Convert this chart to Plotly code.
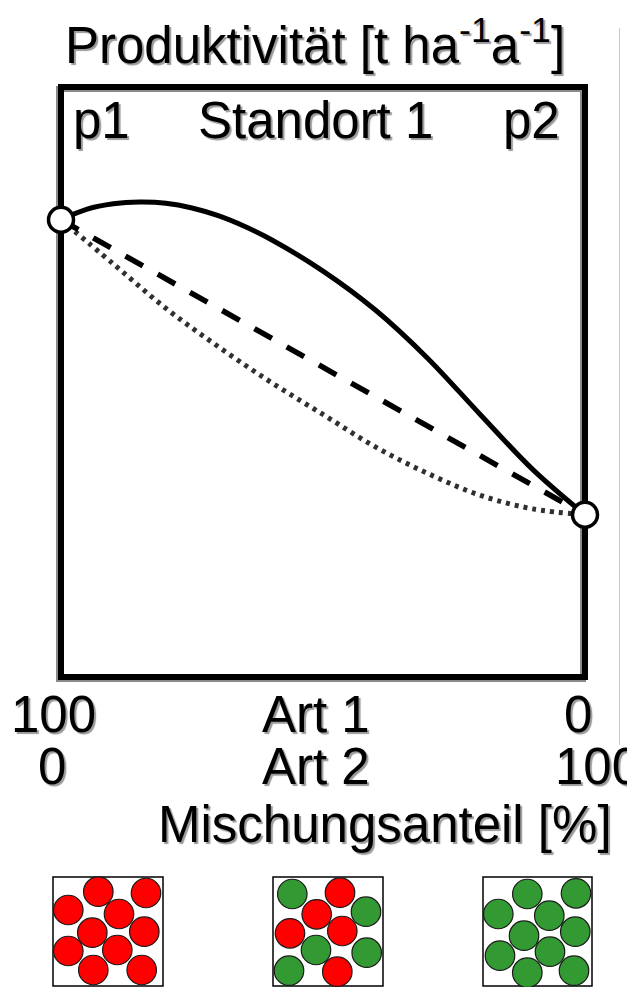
import plotly.graph_objects as go

W, H = 627, 987

# ---------------- data ----------------
# x = share of Art 2 in % (left: 100 % Art 1, right: 100 % Art 2); y = productivity (arbitrary units)
solid_x = [0, 5, 10, 15, 20, 25, 30, 35, 40, 50, 60, 70, 80, 90, 100]
solid_y = [7.75, 7.93, 8.02, 8.05, 8.03, 7.95, 7.82, 7.64, 7.42, 6.88, 6.22, 5.40, 4.45, 3.52, 2.75]

dashed_x = [0, 50, 100]
dashed_y = [7.75, 5.25, 2.75]

dotted_x = [0, 10, 20, 30, 40, 50, 60, 70, 80, 90, 100]
dotted_y = [7.75, 7.00, 6.25, 5.60, 5.00, 4.45, 3.90, 3.45, 3.08, 2.85, 2.75]

mono_x = [0, 100]
mono_y = [7.75, 2.75]

top_labels = ["p1", "Standort 1", "p2"]
row1_labels = ["100", "Art 1", "0"]
row2_labels = ["0", "Art 2", "100"]
title_text = "Produktivität [t ha<sup>-1</sup>a<sup>-1</sup>]"
xlabel_text = "Mischungsanteil [%]"

# illustration: three mixture boxes with 10 plants each (1 = Art 1 red, 2 = Art 2 green)
box1_cx = [98.3, 146, 68.3, 119, 92.3, 144.3, 68.3, 117.3, 93.3, 141.7]
box1_cy = [891.7, 893, 910, 914, 932.7, 931.7, 951, 950, 970, 970]
box1_sp = [1, 1, 1, 1, 1, 1, 1, 1, 1, 1]
box2_cx = [292.3, 340, 316.7, 366, 290, 342.3, 316, 366.7, 289, 337.3]
box2_cy = [894, 892.7, 914.3, 911.7, 933.3, 931, 950, 952.7, 970.7, 971.7]
box2_sp = [2, 1, 1, 2, 1, 1, 2, 2, 2, 1]
box3_cx = [527.3, 576, 498.3, 549.3, 524, 575.3, 500, 550, 527.3, 574]
box3_cy = [894, 893.3, 914, 915.7, 935.7, 931.7, 955.7, 951.7, 972.7, 970.7]
box3_sp = [2, 2, 2, 2, 2, 2, 2, 2, 2, 2]

# ---------------- layout helpers ----------------
def px(x):
    return x / W

def py(y):
    return 1 - y / H

PL, PR, PT, PB = 61, 585, 87, 677
RED, GREEN = "#ff0000", "#339933"
FONT = "Liberation Sans, Arial, Helvetica, sans-serif"
FS = 51
SHADOW = "2px 2px 1px #9a9a9a"

fig = go.Figure()

fig.add_trace(go.Scatter(x=dotted_x, y=dotted_y, mode="lines",
                         line=dict(color="#303030", width=5, dash="4px,5px", shape="spline"),
                         cliponaxis=False, hoverinfo="skip", showlegend=False))
fig.add_trace(go.Scatter(x=dashed_x, y=dashed_y, mode="lines",
                         line=dict(color="black", width=5.5, dash="20px,17px"),
                         cliponaxis=False, hoverinfo="skip", showlegend=False))
fig.add_trace(go.Scatter(x=solid_x, y=solid_y, mode="lines",
                         line=dict(color="black", width=5, shape="spline"),
                         cliponaxis=False, hoverinfo="skip", showlegend=False))
fig.add_trace(go.Scatter(x=mono_x, y=mono_y, mode="markers",
                         marker=dict(size=25, color="white", line=dict(color="black", width=3.5)),
                         cliponaxis=False, hoverinfo="skip", showlegend=False))

# illustration circles
for cx, cy, sp in [(box1_cx, box1_cy, box1_sp), (box2_cx, box2_cy, box2_sp), (box3_cx, box3_cy, box3_sp)]:
    fig.add_trace(go.Scatter(x=cx, y=cy, mode="markers", xaxis="x2", yaxis="y2",
                             marker=dict(size=29.5, color=[RED if s == 1 else GREEN for s in sp],
                                         line=dict(color="#1a1a1a", width=1.2)),
                             cliponaxis=False, hoverinfo="skip", showlegend=False))

shapes = []
# frame shadow and frame
shapes.append(dict(type="rect", xref="paper", yref="paper", x0=px(PL - 2), x1=px(PR - 2), y0=py(PB + 2), y1=py(PT + 2),
                   line=dict(color="#8a8a8a", width=6), layer="below"))
shapes.append(dict(type="rect", xref="paper", yref="paper", x0=px(PL), x1=px(PR), y0=py(PB), y1=py(PT),
                   line=dict(color="black", width=6), layer="below"))
# faint vertical line at right edge
shapes.append(dict(type="line", xref="paper", yref="paper", x0=px(619.5), x1=px(619.5), y0=py(28), y1=py(745),
                   line=dict(color="#c8c8c8", width=1)))
# boxes of illustration
for x0, x1 in [(53, 163), (273, 383), (483, 592)]:
    shapes.append(dict(type="rect", xref="x2", yref="y2", x0=x0, x1=x1, y0=877, y1=986,
                       line=dict(color="black", width=1.5), layer="below"))

annotations = []

def txt(text, x, y, size=FS):
    annotations.append(dict(text=text, xref="paper", yref="paper", x=px(x), y=py(y),
                            xanchor="center", yanchor="middle", showarrow=False,
                            font=dict(family=FONT, size=size, color="black", shadow=SHADOW)))

txt(title_text, 315, 42)
for t, x in zip(top_labels, [101, 315, 531]):
    txt(t, x, 121)
for t, x in zip(row1_labels, [53, 316, 578]):
    txt(t, x, 714)
for t, x in zip(row2_labels, [52, 316, 597]):
    txt(t, x, 766)
txt(xlabel_text, 385, 824)

fig.update_layout(
    width=W, height=H, margin=dict(l=0, r=0, t=0, b=0),
    paper_bgcolor="white", plot_bgcolor="white",
    xaxis=dict(domain=[px(PL), px(PR)], range=[0, 100], visible=False, fixedrange=True),
    yaxis=dict(domain=[py(PB), py(PT)], range=[0, 10], visible=False, fixedrange=True),
    xaxis2=dict(domain=[0, 1], range=[0, W], visible=False, anchor="y2", fixedrange=True),
    yaxis2=dict(domain=[0, py(870)], range=[H, 870], visible=False, anchor="x2", fixedrange=True),
    shapes=shapes, annotations=annotations, showlegend=False,
)

fig.write_html("out.html", config={"displayModeBar": False},
               post_script="document.body.style.margin='0px';")
